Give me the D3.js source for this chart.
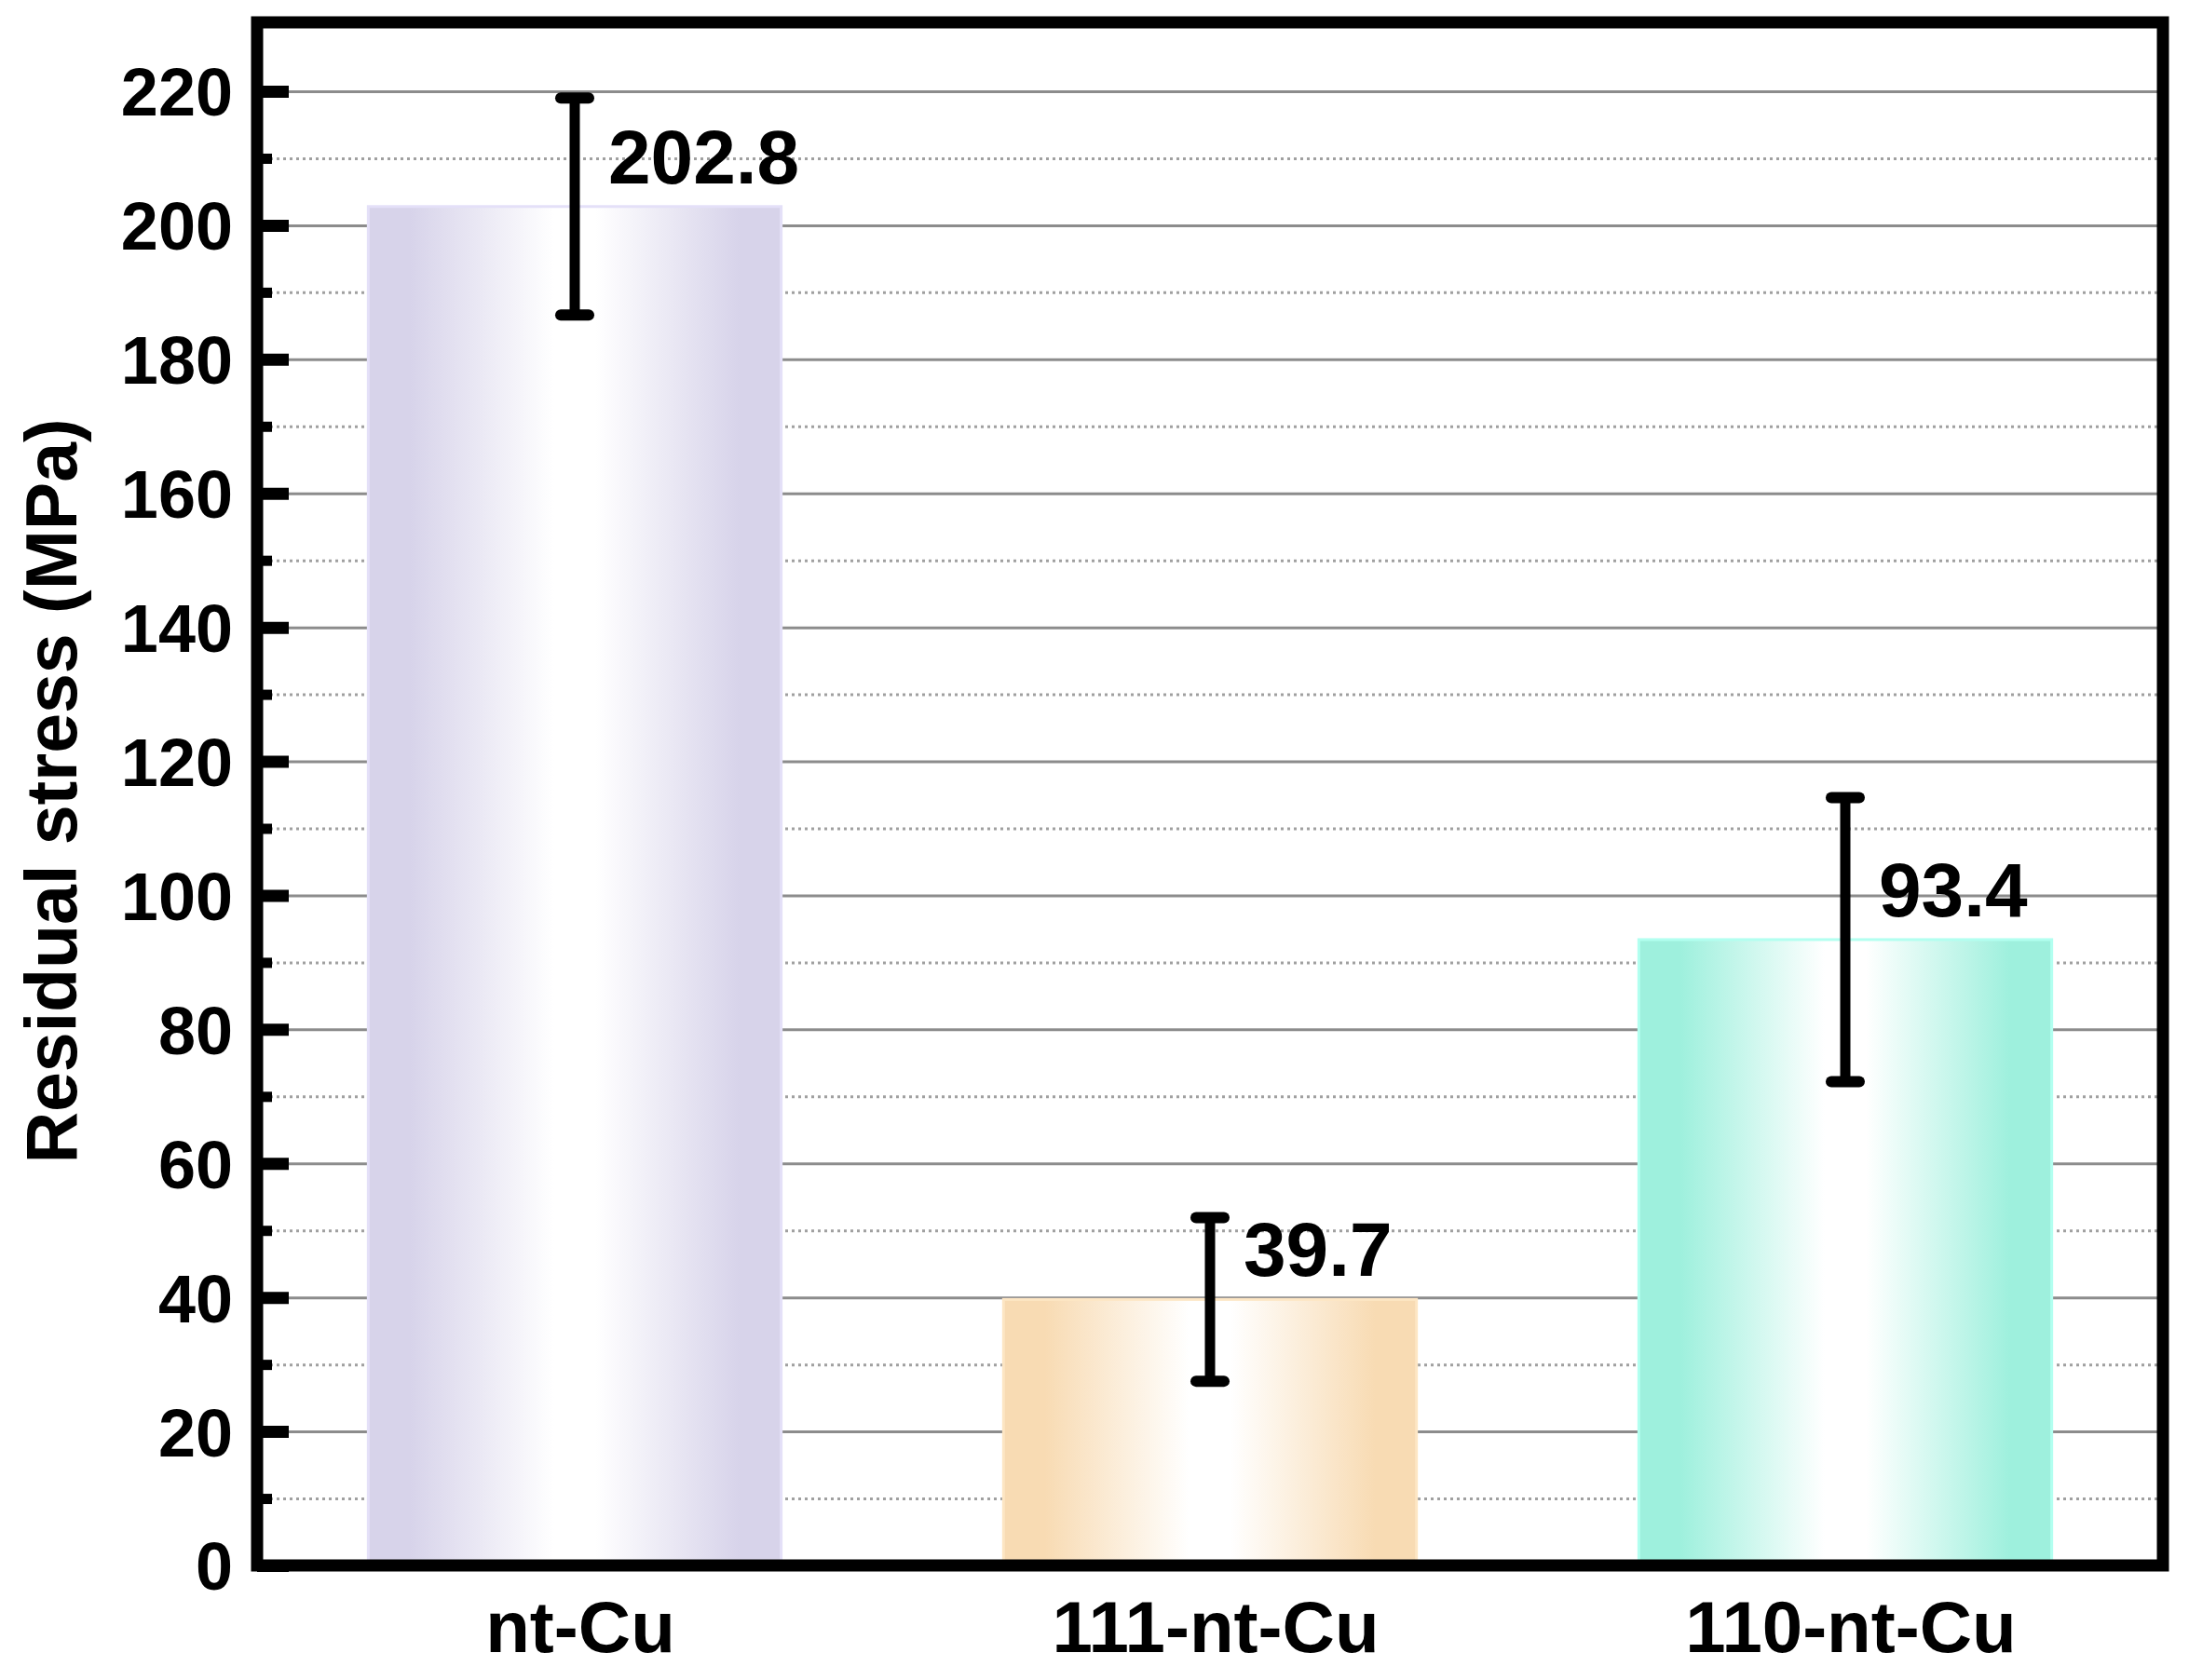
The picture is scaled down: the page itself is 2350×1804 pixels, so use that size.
<!DOCTYPE html>
<html>
<head>
<meta charset="utf-8">
<script src="https://cdn.jsdelivr.net/npm/d3@7"></script>
<style>
  body { margin: 0; background: #fff; }
  text { font-family: "Liberation Sans", Arial, sans-serif; font-weight: bold; }
</style>
</head>
<body>
<div id="chart"></div>
<script>
// data
var categories = ["nt-Cu", "111-nt-Cu", "110-nt-Cu"];
var values = [202.8, 39.7, 93.4];
var errors = [16.2, 12.2, 21.2];
var barColors = ["#d7d3ea", "#f8dbb3", "#9ef0dd"];
var edgeColors = ["#e4e0f8", "#fde6c4", "#b2fff0"];
var majorTicks = [0, 20, 40, 60, 80, 100, 120, 140, 160, 180, 200, 220];
var minorTicks = [10, 30, 50, 70, 90, 110, 130, 150, 170, 190, 210];

var W = 2350, H = 1804;
var plot = {left: 276, right: 2322, top: 24, bottom: 1681};

var svg = d3.select("#chart")
  .append("svg")
    .attr("width", W)
    .attr("height", H);

var x = d3.scaleBand()
  .domain(categories)
  .range([plot.left, plot.right])
  .paddingInner(0.35)
  .paddingOuter(0.175);

var y = d3.scaleLinear()
  .domain([0, 220])
  .range([plot.bottom, 98]);

// gradients for the bars
var defs = svg.append("defs");
categories.forEach(function(c, i) {
  var g = defs.append("linearGradient")
    .attr("id", "grad" + i)
    .attr("x1", "0%").attr("x2", "100%")
    .attr("y1", "0%").attr("y2", "0%");
  g.append("stop").attr("offset", "0%").attr("stop-color", barColors[i]);
  g.append("stop").attr("offset", "10%").attr("stop-color", barColors[i]);
  g.append("stop").attr("offset", "45%").attr("stop-color", "#ffffff");
  g.append("stop").attr("offset", "55%").attr("stop-color", "#ffffff");
  g.append("stop").attr("offset", "90%").attr("stop-color", barColors[i]);
  g.append("stop").attr("offset", "100%").attr("stop-color", barColors[i]);
});

// grid lines
svg.append("g")
  .attr("transform", "translate(" + plot.left + ",0)")
  .call(d3.axisLeft(y).tickValues(minorTicks).tickSize(-(plot.right - plot.left)).tickFormat(""))
  .call(function(g) { g.select(".domain").remove(); })
  .selectAll("line")
    .attr("stroke", "#a0a0a0")
    .attr("stroke-width", 3)
    .attr("stroke-dasharray", "3,4");

svg.append("g")
  .attr("transform", "translate(" + plot.left + ",0)")
  .call(d3.axisLeft(y).tickValues(majorTicks.slice(1)).tickSize(-(plot.right - plot.left)).tickFormat(""))
  .call(function(g) { g.select(".domain").remove(); })
  .selectAll("line")
    .attr("stroke", "#8c8c8c")
    .attr("stroke-width", 3);

// bars
svg.selectAll(".bar")
  .data(values)
  .enter()
  .append("rect")
    .attr("class", "bar")
    .attr("x", function(d, i) { return x(categories[i]); })
    .attr("width", x.bandwidth())
    .attr("y", function(d) { return y(d); })
    .attr("height", function(d) { return y(0) - y(d); })
    .attr("fill", function(d, i) { return "url(#grad" + i + ")"; })
    .attr("stroke", function(d, i) { return edgeColors[i]; })
    .attr("stroke-width", 3);

// error bars
var eb = svg.selectAll(".err")
  .data(values)
  .enter()
  .append("g")
    .attr("class", "err")
    .attr("transform", function(d, i) { return "translate(" + (x(categories[i]) + x.bandwidth() / 2) + ",0)"; });

eb.append("line")
  .attr("y1", function(d, i) { return y(d + errors[i]); })
  .attr("y2", function(d, i) { return y(d - errors[i]); })
  .attr("stroke", "#000")
  .attr("stroke-width", 11);

eb.append("line")
  .attr("x1", -15).attr("x2", 15)
  .attr("y1", function(d, i) { return y(d + errors[i]); })
  .attr("y2", function(d, i) { return y(d + errors[i]); })
  .attr("stroke", "#000")
  .attr("stroke-width", 12)
  .attr("stroke-linecap", "round");

eb.append("line")
  .attr("x1", -15).attr("x2", 15)
  .attr("y1", function(d, i) { return y(d - errors[i]); })
  .attr("y2", function(d, i) { return y(d - errors[i]); })
  .attr("stroke", "#000")
  .attr("stroke-width", 12)
  .attr("stroke-linecap", "round");

// value labels
eb.append("text")
  .attr("x", 36)
  .attr("y", function(d) { return y(d) - 25; })
  .style("font-size", "82px")
  .text(function(d) { return d.toFixed(1); });

// frame
svg.append("rect")
  .attr("x", plot.left)
  .attr("y", plot.top)
  .attr("width", plot.right - plot.left)
  .attr("height", plot.bottom - plot.top)
  .attr("fill", "none")
  .attr("stroke", "#000")
  .attr("stroke-width", 13);

// y axis ticks + labels
var yAxis = svg.append("g")
  .attr("transform", "translate(" + plot.left + ",0)")
  .call(d3.axisLeft(y).tickValues(majorTicks).tickSize(-34).tickPadding(26));
yAxis.select(".domain").remove();
yAxis.selectAll("line").attr("stroke", "#000").attr("stroke-width", 13);
yAxis.selectAll("text")
  .attr("fill", "#000")
  .style("font-size", "72px")
  .attr("dy", "0.36em");

var yMinor = svg.append("g")
  .attr("transform", "translate(" + plot.left + ",0)")
  .call(d3.axisLeft(y).tickValues(minorTicks).tickSize(-16).tickFormat(""));
yMinor.select(".domain").remove();
yMinor.selectAll("line").attr("stroke", "#000").attr("stroke-width", 11);

// x axis labels
var xAxis = svg.append("g")
  .attr("transform", "translate(0," + plot.bottom + ")")
  .call(d3.axisBottom(x).tickSize(0).tickPadding(38));
xAxis.select(".domain").remove();
xAxis.selectAll("text")
  .attr("fill", "#000")
  .attr("dx", 6)
  .style("font-size", "78px");

// y axis title
svg.append("text")
  .attr("transform", "translate(82," + ((plot.top + plot.bottom) / 2 - 3) + ") rotate(-90)")
  .attr("text-anchor", "middle")
  .style("font-size", "77px")
  .text("Residual stress (MPa)");
</script>
</body>
</html>
